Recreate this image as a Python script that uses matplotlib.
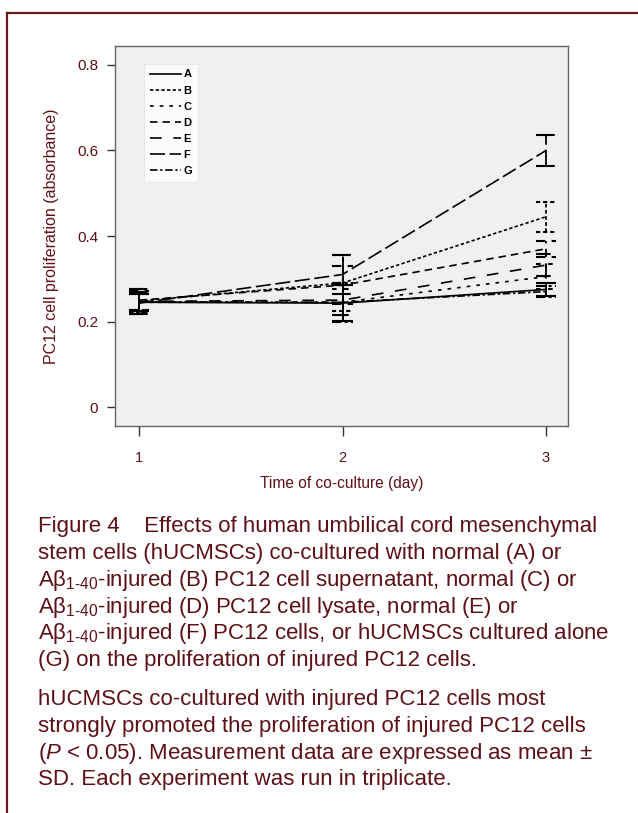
import numpy as np
import matplotlib.pyplot as plt
from matplotlib.lines import Line2D

plt.rcParams['font.family'] = ['Liberation Sans', 'DejaVu Sans']
plt.rcParams['mathtext.fontset'] = 'custom'
plt.rcParams['mathtext.rm'] = 'Liberation Sans'
plt.rcParams['mathtext.it'] = 'Liberation Sans:italic'

# data (absorbance, mean and SD)
days = [1, 2, 3]
groups = ['A', 'B', 'C', 'D', 'E', 'F', 'G']
mean_A = [0.245, 0.243, 0.275]
mean_B = [0.248, 0.290, 0.445]
mean_C = [0.245, 0.245, 0.305]
mean_D = [0.250, 0.285, 0.370]
mean_E = [0.247, 0.250, 0.332]
mean_F = [0.243, 0.310, 0.600]
mean_G = [0.246, 0.245, 0.270]
sd_A = [0.020, 0.042, 0.015]
sd_B = [0.028, 0.065, 0.035]
sd_C = [0.025, 0.030, 0.030]
sd_D = [0.022, 0.045, 0.018]
sd_E = [0.030, 0.035, 0.025]
sd_F = [0.025, 0.045, 0.037]
sd_G = [0.018, 0.045, 0.012]

means = [mean_A, mean_B, mean_C, mean_D, mean_E, mean_F, mean_G]
sds = [sd_A, sd_B, sd_C, sd_D, sd_E, sd_F, sd_G]

# dash pattern for each group
dashes = {
    'A': None,
    'B': (2, 1.4),
    'C': (2.2, 3.6),
    'D': (4.5, 3),
    'E': (7, 7),
    'F': (9, 2.8),
    'G': (4.5, 1.6, 1.4, 1.6),
}

red = '#5e1017'

fig = plt.figure(figsize=(6.38, 8.13), dpi=100)
ax = fig.add_axes([115 / 638, 1 - 426 / 813, 453 / 638, 380 / 813])
ax.set_facecolor('#f0f0f0')

cap = 0.05
for g, m, s in zip(groups, means, sds):
    m = np.array(m)
    s = np.array(s)
    ls = '-' if dashes[g] is None else (0, dashes[g])
    ax.plot(days, m, color='black', lw=1.2, linestyle=ls, label=g)
    ax.vlines(days, m - s, m + s, colors='black', lw=1.3, linestyles=[ls])
    for d, lo, hi in zip(days, m - s, m + s):
        ax.hlines([lo, hi], d - cap, d + cap, colors='black', lw=1.5, linestyles=[ls])

ax.set_xlim(0.882, 3.108)
ax.set_ylim(-0.0444, 0.8444)
ax.set_xticks(days)
ax.set_xticklabels(['1', '2', '3'])
ax.set_yticks([0, 0.2, 0.4, 0.6, 0.8])
ax.set_yticklabels(['0', '0.2', '0.4', '0.6', '0.8'])
ax.tick_params(axis='y', length=6, width=1, color='#333333', pad=6,
               labelsize=11, labelcolor=red)
ax.tick_params(axis='x', length=7, width=1, color='#333333', pad=11,
               labelsize=10.5, labelcolor=red)
for sp in ax.spines.values():
    sp.set_color('#666666')
    sp.set_linewidth(1)

ax.set_ylabel('PC12 cell proliferation (absorbance)', fontsize=11.5, color=red, labelpad=13)
ax.set_xlabel('Time of co-culture (day)', fontsize=11.2, color=red, labelpad=8)

leg = ax.legend(loc='upper left', bbox_to_anchor=(0.064, 0.953), borderaxespad=0,
                prop={'size': 8, 'weight': 'bold'}, handlelength=2.8,
                handletextpad=0.25, labelspacing=0.55, borderpad=0.5,
                frameon=True, fancybox=False)
leg.get_frame().set_facecolor('white')
leg.get_frame().set_edgecolor('#e6e6e6')
leg.get_frame().set_linewidth(0.8)

# page frame
fig.add_artist(Line2D([7 / 638, 1], [1 - 13 / 813, 1 - 13 / 813],
                      transform=fig.transFigure, color='#6a1820', lw=1.6))
fig.add_artist(Line2D([7 / 638, 7 / 638], [0, 1 - 13 / 813],
                      transform=fig.transFigure, color='#6a1820', lw=1.6))

sub = '$_{\\mathregular{1\u201040}}$'
caption1 = [
    'Figure 4    Effects of human umbilical cord mesenchymal',
    'stem cells (hUCMSCs) co-cultured with normal (A) or',
    'A\u03b2' + sub + '-injured (B) PC12 cell supernatant, normal (C) or',
    'A\u03b2' + sub + '-injured (D) PC12 cell lysate, normal (E) or',
    'A\u03b2' + sub + '-injured (F) PC12 cells, or hUCMSCs cultured alone',
    '(G) on the proliferation of injured PC12 cells.',
]
caption2 = [
    'hUCMSCs co-cultured with injured PC12 cells most',
    'strongly promoted the proliferation of injured PC12 cells',
    '($\\mathit{P}$ < 0.05). Measurement data are expressed as mean \u00b1',
    'SD. Each experiment was run in triplicate.',
]
base1 = [532, 559, 586, 613, 639, 666]
base2 = [705, 732, 759, 785]
for line, yb in zip(caption1 + caption2, base1 + base2):
    fig.text(38 / 638, 1 - yb / 813, line, fontsize=16, color=red, va='baseline', ha='left')

fig.savefig('out.png', dpi=100)
